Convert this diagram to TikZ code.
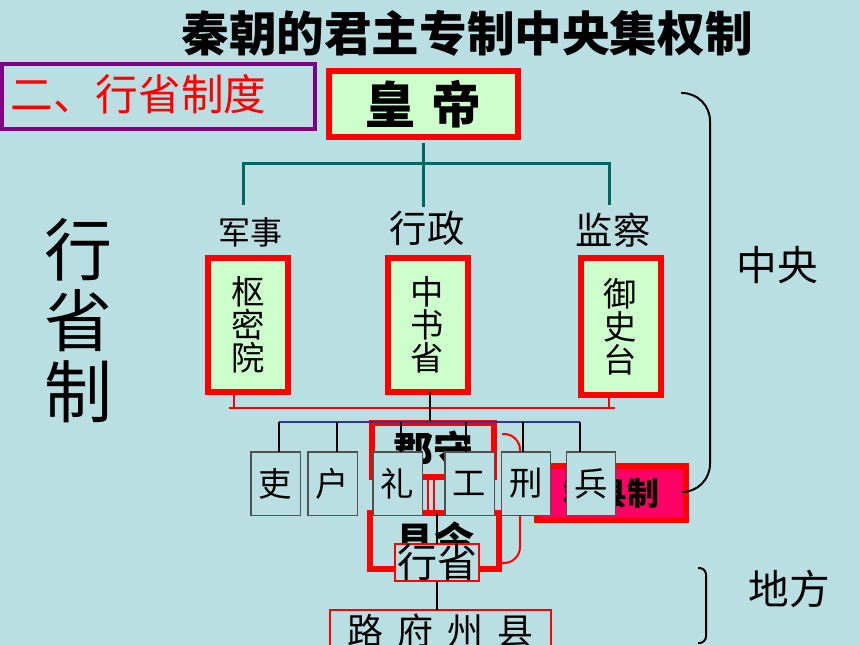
\documentclass[tikz,border=0pt]{standalone}
\usepackage{fontspec}
\setmainfont{Noto Sans CJK SC}
\definecolor{bg}{RGB}{185,223,226}
\definecolor{lgreen}{RGB}{204,255,204}
\definecolor{tealc}{RGB}{0,102,102}
\definecolor{purp}{RGB}{128,0,128}
\definecolor{mag}{RGB}{255,0,102}
\definecolor{bluel}{RGB}{51,51,153}
\definecolor{grayb}{RGB}{80,80,80}
\newcommand{\fsz}[2]{\fontsize{#1pt}{#2pt}\selectfont}
\begin{document}
\begin{tikzpicture}[x=0.75pt,y=-0.75pt,
  every node/.style={inner sep=0pt, outer sep=0pt},
  thickred/.style={draw=red, line width=4.5pt},
  greenbox/.style={thickred, fill=lgreen},
  emptyred/.style={thickred, fill=bg},
  thinred/.style={draw=red, line width=1.5pt, fill=bg},
  minibox/.style={draw=grayb, line width=1.1pt, fill=bg, minimum width=37.1pt, minimum height=47.6pt, font=\fsz{25}{30}},
  tealline/.style={draw=tealc, line width=2.25pt},
  blk/.style={draw=black, line width=1.1pt},
  rline/.style={draw=red, line width=1.5pt},
  bracketline/.style={draw=black, line width=1.5pt},
]
\useasboundingbox (0,0) rectangle (860,645);
\clip (0,0) rectangle (860,645);
\fill[bg] (0,0) rectangle (860,645);

% title and section label
\node[font=\bfseries\fsz{35.7}{40}] (title) at (467,33) {秦朝的君主专制中央集权制};
\node[draw=purp, line width=3pt, minimum width=234.75pt, minimum height=48.75pt] (secbox) at (158.5,96.5) {};
\node[text=red, font=\fsz{32}{36}] (sec) at (138.5,94) {二、行省制度};

% emperor
\node[greenbox, minimum width=141.75pt, minimum height=49.5pt, font=\bfseries\fsz{37.5}{40}] (emp) at (423,104) {皇\hspace{0.32em}帝};

% teal tree
\coordinate (tJ) at (423,164);
\coordinate (tL) at (243,205);
\coordinate (tM) at (423,207);
\coordinate (tR) at (609,205);
\draw[tealline, shorten <=4.5pt] (emp.south) -- (tM);
\draw[tealline] (tL) |- (tJ) -| (tR);

% labels
\node[font=\fsz{24}{28}] (js) at (250,232) {军事};
\node[font=\fsz{28}{32}] (xz) at (427,228) {行政};
\node[font=\fsz{28}{32}] (jc) at (613,230) {监察};

% three organs
\node[greenbox, minimum width=60pt, minimum height=100.5pt, align=center, font=\fsz{25}{24.75}] (smy) at (248,325) {枢\\密\\院};
\node[greenbox, minimum width=60pt, minimum height=100.5pt, align=center, font=\fsz{25}{24.75}] (zsh) at (427.5,325) {中\\书\\省};
\node[greenbox, minimum width=60pt, minimum height=102.75pt, align=center, font=\fsz{25}{24.75}] (yst) at (620.5,326.5) {御\\史\\台};

% red line under organs
\coordinate (rL) at (229,408);
\coordinate (rR) at (615,408);
\coordinate (rt1) at (234,408);
\coordinate (rt2) at (609,408);
\draw[rline] (rL) -- (rR);
\draw[rline] (smy.south -| rt1) -- (rt1);
\draw[rline] (yst.south -| rt2) -- (rt2);

% local boxes behind
\node[emptyred, minimum width=91.5pt, minimum height=40.5pt, font=\bfseries\fsz{30}{34}] (jsh) at (433,450) {郡守};
\node[emptyred, minimum width=96.75pt, minimum height=42pt, font=\bfseries\fsz{30}{34}] (xl) at (434.5,541) {县令};
\coordinate (dc1) at (428,0);
\coordinate (dc2) at (434,0);
\draw[rline] (jsh.south -| dc1) -- (xl.north -| dc1);
\draw[rline] (jsh.south -| dc2) -- (xl.north -| dc2);
\coordinate (bq1) at (502,434);
\coordinate (bq2) at (502,563);
\coordinate (bqm) at (520,500);
\draw[rline, rounded corners=12pt] (bq1) -| (bqm) |- (bq2);
\node[draw=red, line width=4.5pt, fill=mag, minimum width=111.75pt, minimum height=40.5pt, font=\bfseries\fsz{24}{28}] (jxz) at (611.5,493) {郡县制};

% six ministries
\coordinate (bj) at (430,422);
\draw[blk] (zsh.south -| bj) -- (bj);
\coordinate (b1) at (279,422);
\coordinate (b2) at (337,422);
\coordinate (b3) at (401,422);
\coordinate (b4) at (466,422);
\coordinate (b5) at (523,422);
\coordinate (b6) at (580,422);
\draw[draw=bluel, line width=1.5pt] (b1) -- (b6);
\node[minibox] (m1) at (275.5,483.5) {吏};
\node[minibox] (m2) at (332.5,483.5) {户};
\node[minibox] (m3) at (397.5,483.5) {礼};
\node[minibox] (m4) at (469.5,483.5) {工};
\node[minibox] (m5) at (526,483.5) {刑};
\node[minibox] (m6) at (591,483.5) {兵};
\foreach \i in {1,...,6} {\draw[blk] (b\i) -- (m\i.north -| b\i);}

% xingsheng and below
\node[thinred, minimum width=63pt, minimum height=26.25pt, font=\fsz{30}{34}] (xs) at (437,562.5) {行省};
\draw[blk] (xl.north -| xs.north) -- (xs.north);
\node[thinred, minimum width=165.75pt, minimum height=31.5pt, font=\fsz{27}{30}] (lf) at (440.5,631) {路\hspace{10.5pt}府\hspace{10.5pt}州\hspace{10.5pt}县};
\draw[blk] (xs.south) -- (xs.south |- lf.north);

% brackets and side labels
\coordinate (bkT) at (681,93);
\coordinate (bkM) at (710,300);
\coordinate (bkB) at (682,492);
\draw[bracketline, rounded corners=21pt] (bkT) -| (bkM) |- (bkB);
\coordinate (sbT) at (698,568);
\coordinate (sbM) at (706,600);
\coordinate (sbB) at (698,643);
\draw[bracketline, rounded corners=5pt] (sbT) -| (sbM) |- (sbB);
\node[font=\fsz{30.5}{34}] (zy) at (777,265) {中央};
\node[font=\fsz{30.5}{34}] (df) at (789,589) {地方};
\node[font=\fsz{51}{53.25}, align=center] (xsz) at (78,321) {行\\省\\制};
\end{tikzpicture}
\end{document}
